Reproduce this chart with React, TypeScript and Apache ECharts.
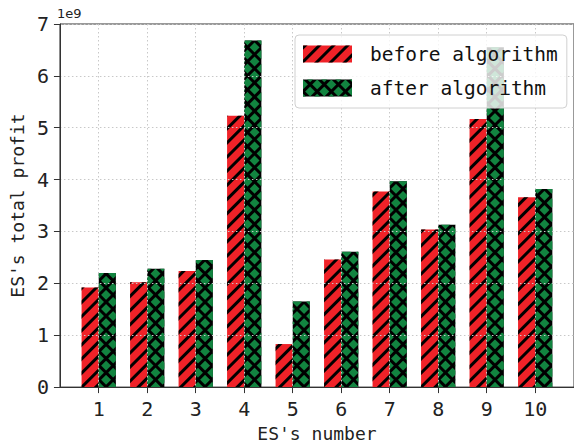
import React, { useEffect, useRef } from "react";
import * as echarts from "echarts";

const categories = [1, 2, 3, 4, 5, 6, 7, 8, 9, 10];
const beforeValues = [1.92, 2.02, 2.24, 5.23, 0.83, 2.46, 3.77, 3.04, 5.17, 3.66];
const afterValues = [2.2, 2.28, 2.45, 6.68, 1.65, 2.61, 3.97, 3.13, 6.55, 3.82];
const seriesNames = ["before algorithm", "after algorithm"];
const yTicks = [0, 1, 2, 3, 4, 5, 6, 7];
const offsetLabel = "1e9";
const xTitle = "ES's number";
const yTitle = "ES's total profit";

const MONO = "'DejaVu Sans Mono', monospace";

export default function App() {
  const ref = useRef<HTMLDivElement>(null);
  useEffect(() => {
    if (!ref.current) return;
    const chart = echarts.init(ref.current, null, { renderer: "svg" });
    const axisLineStyle = { color: "#333", width: 1 };
    const option: any = {
      animation: false,
      backgroundColor: "#fff",
      grid: {
        left: 57,
        top: 24,
        width: 519,
        height: 370,
        show: true,
        borderColor: "#333",
        borderWidth: 1,
        backgroundColor: "transparent",
      },
      xAxis: {
        type: "value",
        min: 0.2,
        max: 10.8,
        z: 3,
        name: xTitle,
        nameLocation: "middle",
        nameGap: 34,
        nameTextStyle: { fontFamily: MONO, fontSize: 18, color: "#222" },
        axisLine: { show: true, lineStyle: axisLineStyle },
        axisTick: { show: true, length: 6, inside: false, lineStyle: axisLineStyle, customValues: categories },
        axisLabel: {
          customValues: categories,
          margin: 12,
          fontFamily: MONO,
          fontSize: 20,
          color: "#222",
        },
        splitLine: { show: true, lineStyle: { color: "#c8c8c8", type: [1.5, 2.5], width: 1 } },
      },
      yAxis: {
        type: "value",
        min: yTicks[0],
        max: yTicks[yTicks.length - 1],
        interval: 1,
        z: 3,
        name: yTitle,
        nameLocation: "middle",
        nameGap: 26,
        nameTextStyle: { fontFamily: MONO, fontSize: 18, color: "#222" },
        axisLine: { show: true, lineStyle: axisLineStyle },
        axisTick: { show: true, length: 6, lineStyle: axisLineStyle },
        axisLabel: { margin: 11, fontFamily: MONO, fontSize: 20, color: "#222" },
        splitLine: { show: true, lineStyle: { color: "#c8c8c8", type: [1.5, 2.5], width: 1 } },
      },
      legend: {
        orient: "vertical",
        left: 295,
        top: 35,
        itemWidth: 49,
        itemHeight: 17,
        itemGap: 14,
        icon: "rect",
        padding: [9, 9, 10, 8],
        backgroundColor: "rgba(255,255,255,0.8)",
        borderColor: "#d0d0d0",
        borderWidth: 1,
        borderRadius: 4,
        textStyle: { fontFamily: MONO, fontSize: 19.5, color: "#111", padding: [0, 0, 0, 13] },
        data: seriesNames,
      },
      graphic: [
        {
          type: "text",
          left: 57,
          top: 7,
          style: { text: offsetLabel, fontSize: 13, fontFamily: "'DejaVu Sans', sans-serif", fill: "#222" },
        },
      ],
      series: [
        {
          name: seriesNames[0],
          type: "bar",
          barWidth: 17.15,
          barGap: "0%",
          data: categories.map((c, i) => [c, beforeValues[i]]),
          itemStyle: {
            color: "#ef2228",
            decal: {
              symbol: "rect",
              symbolSize: 1,
              color: "#000",
              dashArrayX: [1, 0],
              dashArrayY: [2.5, 7],
              rotation: -Math.PI / 4,
            },
          },
        },
        {
          name: seriesNames[1],
          type: "bar",
          barWidth: 17.15,
          barGap: "0%",
          data: categories.map((c, i) => [c, afterValues[i]]),
          itemStyle: {
            color: "#000",
            decal: {
              symbol: "rect",
              symbolSize: 1,
              color: "#128440",
              dashArrayX: [7, 2.5],
              dashArrayY: [7, 2.5],
              rotation: Math.PI / 4,
            },
          },
        },
      ],
    };
    chart.setOption(option);
    return () => chart.dispose();
  }, []);
  return <div ref={ref} style={{ position: "fixed", left: 0, top: 0, width: 574, height: 447 }} />;
}
